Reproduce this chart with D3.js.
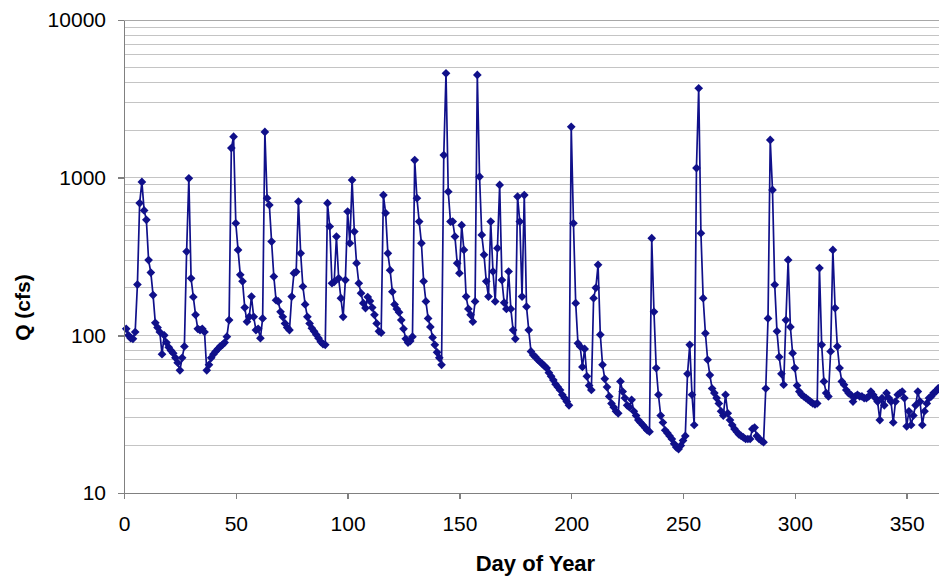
<!DOCTYPE html>
<meta charset="utf-8">
<style>
    body {
        margin: 0;
        background: #fff;
    }

    svg {
        display: block;
        font-family: "Liberation Sans", Arial, sans-serif;
    }

    .axis text {
        font-size: 21px;
        fill: #000;
    }

    .axis path,
    .axis line {
        fill: none;
        stroke: #808080;
        stroke-width: 1.5;
        shape-rendering: crispEdges;
    }

    .grid line {
        stroke: #c4c4c4;
        stroke-width: 1;
        shape-rendering: crispEdges;
    }

    .title {
        font-size: 22px;
        font-weight: bold;
    }
</style>
<svg class="chart"></svg>
<script src="https://cdn.jsdelivr.net/npm/d3@7"></script>
<script>

    // daily discharge (cfs), day 1 .. 365
    const flow = [
        110, 100, 96, 95, 105, 210, 690, 940, 620, 540,
        300, 250, 180, 120, 112, 105, 76, 100, 90, 84,
        80, 77, 72, 67, 60, 72, 85, 340, 990, 230,
        175, 135, 110, 108, 110, 105, 60, 65, 72, 76,
        79, 82, 85, 87, 90, 98, 125, 1540, 1820, 514,
        348, 242, 220, 150, 122, 131, 176, 131, 108, 110,
        96, 128, 1950, 741, 671, 393, 236, 167, 164, 141,
        131, 119, 112, 108, 176, 248, 253, 706, 331, 204,
        157, 131, 119, 111, 106, 101, 96, 91, 88, 87,
        689, 490, 214, 218, 423, 230, 172, 131, 224, 610,
        384, 966, 455, 287, 214, 185, 160, 149, 175, 165,
        150, 135, 119, 106, 104, 775, 596, 331, 259, 189,
        157, 147, 140, 125, 110, 95, 90, 92, 98, 1294,
        741, 527, 384, 220, 164, 128, 113, 97, 87, 78,
        72, 65, 1390, 4590, 815, 527, 527, 423, 287, 248,
        500, 348, 176, 147, 135, 122, 164, 4480, 1014, 433,
        324, 220, 176, 527, 254, 164, 357, 900, 224, 161,
        147, 254, 147, 108, 95, 759, 527, 176, 775, 152,
        108, 79, 75, 73, 70, 68, 66, 64, 62, 58,
        55, 52, 49, 47, 45, 42, 40, 38, 36, 2100,
        514, 160, 89, 85, 63, 82, 55, 48, 45, 172,
        200, 280, 101, 65, 53, 47, 41, 37, 35, 33,
        32, 51, 44, 40, 36, 35, 39, 33, 31, 29,
        28, 27, 26, 25, 24.5, 413, 141, 62, 42, 31,
        28, 25, 24, 23, 22, 20.5, 19.5, 19, 20, 21.5,
        23, 57, 87, 42, 27, 1150, 3690, 444, 172, 103,
        70, 56, 46, 43, 40, 37, 33, 31, 42, 32,
        29, 27, 25.5, 24.5, 23.5, 23, 22.5, 22, 22, 22,
        25.5, 26, 23, 22, 21.5, 21, 46, 128, 1734, 836,
        209, 106, 73, 57, 48.6, 125, 301, 113, 77, 62,
        48, 44, 42, 41, 40, 39, 38, 37, 36.5, 37,
        267, 87, 51, 43, 41, 79, 348, 149, 85, 62,
        51, 48.6, 45, 43, 42, 38, 41, 42, 41, 41,
        40, 40, 41, 44, 42, 40, 38, 29, 40, 36,
        43, 40, 38, 28, 38, 42, 43, 44, 40, 26.5,
        33, 27, 31, 36, 44, 38, 27, 33, 37, 40,
        41, 43, 44, 46, 47
    ];

    const days = d3.range(1, flow.length + 1);

    const xTicks = [0, 50, 100, 150, 200, 250, 300, 350];
    const yTicks = [10, 100, 1000, 10000];

    const xTitle = "Day of Year",
        yTitle = "Q (cfs)";

    const margin = {top: 20, right: 0, bottom: 87, left: 124},
        svgWidth = 939,
        svgHeight = 580,
        height = svgHeight - margin.top - margin.bottom,
        plotWidth = 816.2;   // day 365 falls just past the right edge

    const data = days.map((d, i) => ({day: d, q: flow[i]}));

    let x = d3.scaleLinear()
        .domain([0, 365])
        .range([0, plotWidth]);

    let y = d3.scaleLog()
        .domain([10, 10000])
        .range([height, 0]);

    let svg = d3.select(".chart")
        .attr("width", svgWidth)
        .attr("height", svgHeight);

    let chart = svg.append("g")
        .attr("transform", "translate(" + margin.left + "," + margin.top + ")");

    // horizontal grid at every 1..9 x decade
    chart.append("g")
        .attr("class", "grid")
        .selectAll("line")
        .data(y.ticks())
        .join("line")
        .attr("x1", 0)
        .attr("x2", plotWidth)
        .attr("y1", d => y(d))
        .attr("y2", d => y(d));

    const line = d3.line()
        .x(d => x(d.day))
        .y(d => y(d.q));

    chart.append("path")
        .datum(data)
        .attr("fill", "none")
        .attr("stroke", "#10108a")
        .attr("stroke-width", 1.7)
        .attr("stroke-linejoin", "round")
        .attr("d", line);

    const diamond = d3.symbol().type(d3.symbolSquare).size(38);

    chart.append("g")
        .selectAll("path")
        .data(data)
        .join("path")
        .attr("d", diamond)
        .attr("fill", "#10108a")
        .attr("transform", d => "translate(" + x(d.day) + "," + y(d.q) + ") rotate(45)");

    // axes
    chart.append("g")
        .attr("class", "x axis")
        .attr("transform", "translate(0," + height + ")")
        .call(d3.axisBottom(x)
            .tickValues(xTicks)
            .tickFormat(d3.format("d"))
            .tickSizeOuter(0)
            .tickSize(6)
            .tickPadding(17));

    chart.append("g")
        .attr("class", "y axis")
        .call(d3.axisLeft(y)
            .tickValues(yTicks)
            .tickFormat(d3.format("d"))
            .tickSizeOuter(0)
            .tickSize(6)
            .tickPadding(12));

    // top decade line is a bit darker, like the frame
    chart.append("line")
        .attr("x1", 0)
        .attr("x2", plotWidth)
        .attr("y1", y(10000))
        .attr("y2", y(10000))
        .attr("stroke", "#a8a8a8")
        .attr("shape-rendering", "crispEdges");

    svg.append("text")
        .attr("class", "title")
        .attr("x", margin.left + x(184))
        .attr("y", 571)
        .attr("text-anchor", "middle")
        .text(xTitle);

    svg.append("text")
        .attr("class", "title")
        .attr("transform", "translate(30," + (margin.top + y(150)) + ") rotate(-90)")
        .attr("text-anchor", "middle")
        .style("font-size", "21px")
        .text(yTitle);

</script>
